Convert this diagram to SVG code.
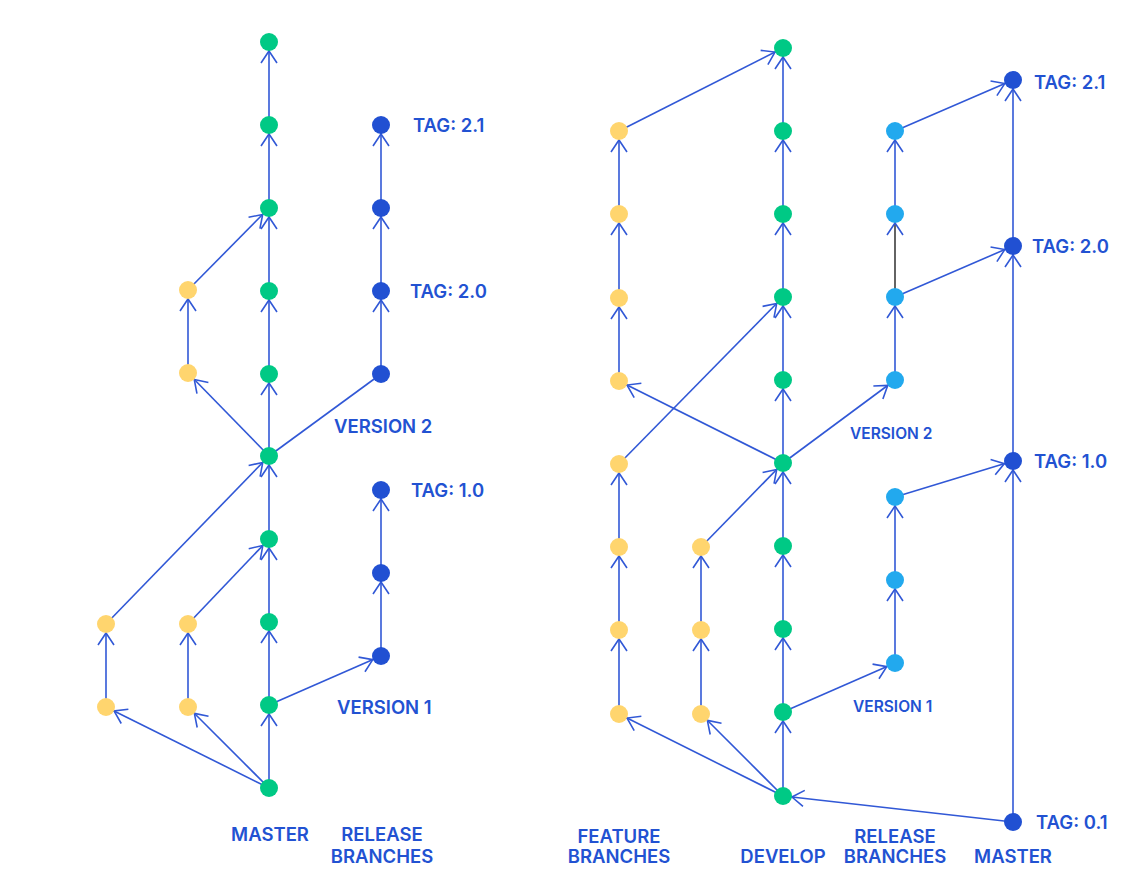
<svg xmlns="http://www.w3.org/2000/svg" width="1121" height="883" viewBox="0 0 1121 883">
<style>
.e{stroke:#3158d6;stroke-width:1.6;fill:none;marker-end:url(#ah)}
.k{stroke:#222;stroke-width:1.4;fill:none;marker-end:url(#ah)}
.g{fill:#00c985}
.y{fill:#ffd56e}
.d{fill:#2150d2}
.l{fill:#22a9ee}
text{font-family:Inter,Roboto,"Liberation Sans",sans-serif;font-weight:600;fill:#2252d2;font-size:18.5px}
.s{font-size:15.5px}
.m{text-anchor:middle}
</style>
<defs>
<marker id="ah" markerUnits="userSpaceOnUse" markerWidth="30" markerHeight="30" refX="0" refY="0" orient="auto" overflow="visible">
<path d="M-21,-8 L-9,0 L-21,8" fill="none" stroke="#3158d6" stroke-width="1.6"/>
</marker>
</defs>
<g id="connectors">
<line class="e" x1="269" y1="788" x2="269" y2="705"/>
<line class="e" x1="269" y1="705" x2="269" y2="622"/>
<line class="e" x1="269" y1="622" x2="269" y2="539"/>
<line class="e" x1="269" y1="539" x2="269" y2="456"/>
<line class="e" x1="269" y1="456" x2="269" y2="374"/>
<line class="e" x1="269" y1="374" x2="269" y2="291"/>
<line class="e" x1="269" y1="291" x2="269" y2="208"/>
<line class="e" x1="269" y1="208" x2="269" y2="125"/>
<line class="e" x1="269" y1="125" x2="269" y2="42"/>
<line class="e" x1="269" y1="788" x2="106" y2="707"/>
<line class="e" x1="269" y1="788" x2="188" y2="707"/>
<line class="e" x1="106" y1="707" x2="106" y2="624"/>
<line class="e" x1="188" y1="707" x2="188" y2="624"/>
<line class="e" x1="106" y1="624" x2="269" y2="456"/>
<line class="e" x1="188" y1="624" x2="269" y2="539"/>
<line class="e" x1="269" y1="705" x2="381" y2="656"/>
<line class="e" x1="381" y1="656" x2="381" y2="573"/>
<line class="e" x1="381" y1="573" x2="381" y2="490"/>
<line class="e" x1="269" y1="456" x2="188" y2="373"/>
<line class="e" x1="188" y1="373" x2="188" y2="290"/>
<line class="e" x1="188" y1="290" x2="269" y2="208"/>
<line class="e" x1="269" y1="456" x2="381" y2="374" style="marker-end:none"/>
<line class="e" x1="381" y1="374" x2="381" y2="291"/>
<line class="e" x1="381" y1="291" x2="381" y2="208"/>
<line class="e" x1="381" y1="208" x2="381" y2="125"/>
<line class="e" x1="783" y1="796" x2="783" y2="712"/>
<line class="e" x1="783" y1="712" x2="783" y2="629"/>
<line class="e" x1="783" y1="629" x2="783" y2="546"/>
<line class="e" x1="783" y1="546" x2="783" y2="463"/>
<line class="e" x1="783" y1="463" x2="783" y2="380"/>
<line class="e" x1="783" y1="380" x2="783" y2="297"/>
<line class="e" x1="783" y1="297" x2="783" y2="214"/>
<line class="e" x1="783" y1="214" x2="783" y2="131"/>
<line class="e" x1="783" y1="131" x2="783" y2="48"/>
<line class="e" x1="1013" y1="822" x2="783" y2="796"/>
<line class="e" x1="783" y1="796" x2="619" y2="714"/>
<line class="e" x1="783" y1="796" x2="701" y2="714"/>
<line class="e" x1="619" y1="714" x2="619" y2="630"/>
<line class="e" x1="619" y1="630" x2="619" y2="547"/>
<line class="e" x1="619" y1="547" x2="619" y2="464"/>
<line class="e" x1="619" y1="464" x2="783" y2="297"/>
<line class="e" x1="701" y1="714" x2="701" y2="630"/>
<line class="e" x1="701" y1="630" x2="701" y2="547"/>
<line class="e" x1="701" y1="547" x2="783" y2="463"/>
<line class="e" x1="783" y1="712" x2="895" y2="663"/>
<line class="e" x1="895" y1="663" x2="895" y2="580"/>
<line class="e" x1="895" y1="580" x2="895" y2="497"/>
<line class="e" x1="895" y1="497" x2="1013" y2="461"/>
<line class="e" x1="783" y1="463" x2="895" y2="380"/>
<line class="e" x1="895" y1="380" x2="895" y2="297"/>
<line class="k" x1="895" y1="297" x2="895" y2="214"/>
<line class="e" x1="895" y1="214" x2="895" y2="131"/>
<line class="e" x1="895" y1="131" x2="1013" y2="80"/>
<line class="e" x1="895" y1="297" x2="1013" y2="246"/>
<line class="e" x1="783" y1="463" x2="619" y2="381"/>
<line class="e" x1="619" y1="381" x2="619" y2="298"/>
<line class="e" x1="619" y1="298" x2="619" y2="214"/>
<line class="e" x1="619" y1="214" x2="619" y2="131"/>
<line class="e" x1="619" y1="131" x2="783" y2="48"/>
<line class="e" x1="1013" y1="822" x2="1013" y2="461"/>
<line class="e" x1="1013" y1="461" x2="1013" y2="246"/>
<line class="e" x1="1013" y1="246" x2="1013" y2="80"/>
</g>
<g id="left-master">
<circle class="g" cx="269" cy="42" r="9"/>
<circle class="g" cx="269" cy="125" r="9"/>
<circle class="g" cx="269" cy="208" r="9"/>
<circle class="g" cx="269" cy="291" r="9"/>
<circle class="g" cx="269" cy="374" r="9"/>
<circle class="g" cx="269" cy="456" r="9"/>
<circle class="g" cx="269" cy="539" r="9"/>
<circle class="g" cx="269" cy="622" r="9"/>
<circle class="g" cx="269" cy="705" r="9"/>
<circle class="g" cx="269" cy="788" r="9"/>
</g>
<g id="left-features">
<circle class="y" cx="106" cy="624" r="9"/>
<circle class="y" cx="106" cy="707" r="9"/>
<circle class="y" cx="188" cy="624" r="9"/>
<circle class="y" cx="188" cy="707" r="9"/>
<circle class="y" cx="188" cy="290" r="9"/>
<circle class="y" cx="188" cy="373" r="9"/>
</g>
<g id="left-release">
<circle class="d" cx="381" cy="125" r="9"/>
<circle class="d" cx="381" cy="208" r="9"/>
<circle class="d" cx="381" cy="291" r="9"/>
<circle class="d" cx="381" cy="374" r="9"/>
<circle class="d" cx="381" cy="490" r="9"/>
<circle class="d" cx="381" cy="573" r="9"/>
<circle class="d" cx="381" cy="656" r="9"/>
</g>
<g id="right-develop">
<circle class="g" cx="783" cy="48" r="9"/>
<circle class="g" cx="783" cy="131" r="9"/>
<circle class="g" cx="783" cy="214" r="9"/>
<circle class="g" cx="783" cy="297" r="9"/>
<circle class="g" cx="783" cy="380" r="9"/>
<circle class="g" cx="783" cy="463" r="9"/>
<circle class="g" cx="783" cy="546" r="9"/>
<circle class="g" cx="783" cy="629" r="9"/>
<circle class="g" cx="783" cy="712" r="9"/>
<circle class="g" cx="783" cy="796" r="9"/>
</g>
<g id="right-features">
<circle class="y" cx="619" cy="131" r="9"/>
<circle class="y" cx="619" cy="214" r="9"/>
<circle class="y" cx="619" cy="298" r="9"/>
<circle class="y" cx="619" cy="381" r="9"/>
<circle class="y" cx="619" cy="464" r="9"/>
<circle class="y" cx="619" cy="547" r="9"/>
<circle class="y" cx="619" cy="630" r="9"/>
<circle class="y" cx="619" cy="714" r="9"/>
<circle class="y" cx="701" cy="547" r="9"/>
<circle class="y" cx="701" cy="630" r="9"/>
<circle class="y" cx="701" cy="714" r="9"/>
</g>
<g id="right-release">
<circle class="l" cx="895" cy="131" r="9"/>
<circle class="l" cx="895" cy="214" r="9"/>
<circle class="l" cx="895" cy="297" r="9"/>
<circle class="l" cx="895" cy="380" r="9"/>
<circle class="l" cx="895" cy="497" r="9"/>
<circle class="l" cx="895" cy="580" r="9"/>
<circle class="l" cx="895" cy="663" r="9"/>
</g>
<g id="right-master">
<circle class="d" cx="1013" cy="80" r="9"/>
<circle class="d" cx="1013" cy="246" r="9"/>
<circle class="d" cx="1013" cy="461" r="9"/>
<circle class="d" cx="1013" cy="822" r="9"/>
</g>
<g id="labels">
<text x="413" y="132">TAG: 2.1</text>
<text x="410" y="298">TAG: 2.0</text>
<text x="411" y="497">TAG: 1.0</text>
<text x="334" y="433">VERSION 2</text>
<text x="337" y="714">VERSION 1</text>
<text class="m" x="270" y="841">MASTER</text>
<text class="m" x="382" y="841">RELEASE</text>
<text class="m" x="382" y="863">BRANCHES</text>
<text x="1034" y="89">TAG: 2.1</text>
<text x="1032" y="253">TAG: 2.0</text>
<text x="1034" y="468">TAG: 1.0</text>
<text x="1036" y="829">TAG: 0.1</text>
<text class="s" x="850" y="439">VERSION 2</text>
<text class="s" x="853" y="712">VERSION 1</text>
<text class="m" x="619" y="843">FEATURE</text>
<text class="m" x="619" y="863">BRANCHES</text>
<text class="m" x="783" y="863">DEVELOP</text>
<text class="m" x="895" y="843">RELEASE</text>
<text class="m" x="895" y="863">BRANCHES</text>
<text class="m" x="1013" y="863">MASTER</text>
</g>
</svg>
